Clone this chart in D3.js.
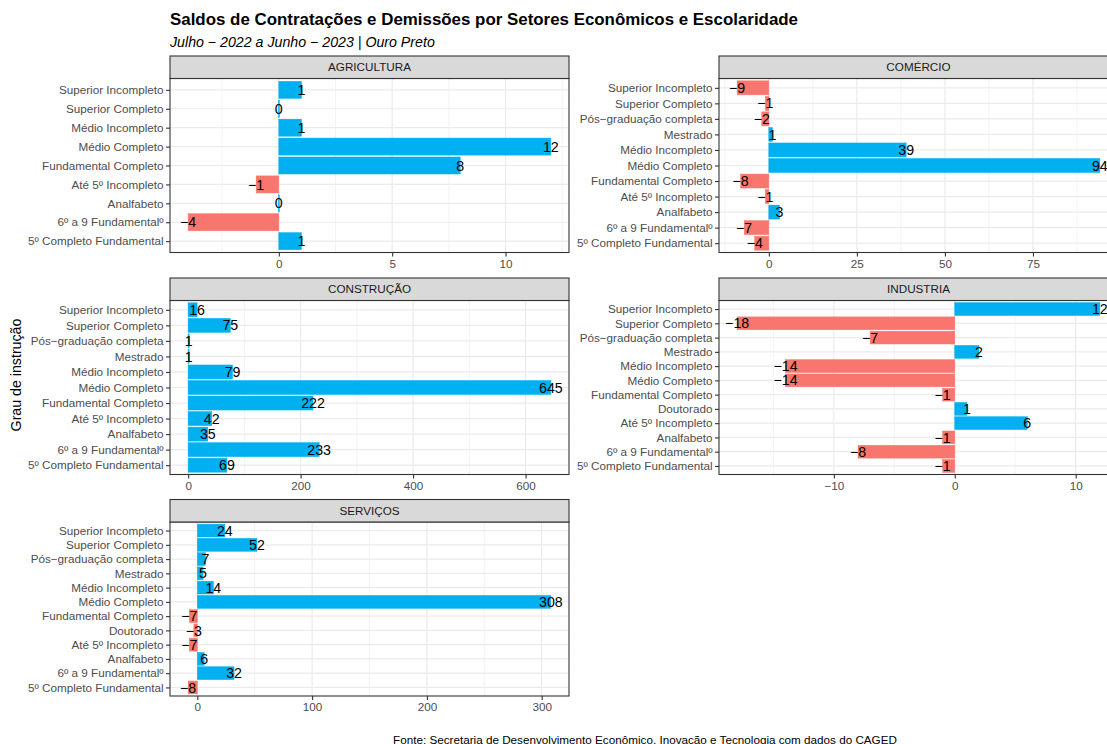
<!DOCTYPE html>
<html>
<head>
<meta charset="utf-8">
<script src="https://cdn.jsdelivr.net/npm/d3@7"></script>
<style>
  body { margin: 0; background: #fff; }
  svg { display: block; }
  text { font-family: "Liberation Sans", Arial, sans-serif; }
</style>
</head>
<body>
<svg id="chart"></svg>
<script>
// categories are listed bottom -> top, as ggplot draws them
const agriCats = ['5º Completo Fundamental', '6º a 9 Fundamentalº', 'Analfabeto', 'Até 5º Incompleto',
  'Fundamental Completo', 'Médio Completo', 'Médio Incompleto', 'Superior Completo', 'Superior Incompleto']
const agriVals = [1, -4, 0, -1, 8, 12, 1, 0, 1]

const comCats = ['5º Completo Fundamental', '6º a 9 Fundamentalº', 'Analfabeto', 'Até 5º Incompleto',
  'Fundamental Completo', 'Médio Completo', 'Médio Incompleto', 'Mestrado', 'Pós−graduação completa',
  'Superior Completo', 'Superior Incompleto']
const comVals = [-4, -7, 3, -1, -8, 94, 39, 1, -2, -1, -9]

const consCats = comCats
const consVals = [69, 233, 35, 42, 222, 645, 79, 1, 1, 75, 16]

const indCats = ['5º Completo Fundamental', '6º a 9 Fundamentalº', 'Analfabeto', 'Até 5º Incompleto',
  'Doutorado', 'Fundamental Completo', 'Médio Completo', 'Médio Incompleto', 'Mestrado',
  'Pós−graduação completa', 'Superior Completo', 'Superior Incompleto']
const indVals = [-1, -8, -1, 6, 1, -1, -14, -14, 2, -7, -18, 12]

const servCats = indCats
const servVals = [-8, 32, 6, -7, -3, -7, 308, 14, 5, 7, 52, 24]

const agriTicks = [0, 5, 10]
const comTicks = [0, 25, 50, 75]
const consTicks = [0, 200, 400, 600]
const indTicks = [-10, 0, 10]
const servTicks = [0, 100, 200, 300]

const panels = [
  { name: 'AGRICULTURA', cats: agriCats, vals: agriVals, ticks: agriTicks, col: 0, row: 0 },
  { name: 'COMÉRCIO', cats: comCats, vals: comVals, ticks: comTicks, col: 1, row: 0 },
  { name: 'CONSTRUÇÃO', cats: consCats, vals: consVals, ticks: consTicks, col: 0, row: 1 },
  { name: 'INDUSTRIA', cats: indCats, vals: indVals, ticks: indTicks, col: 1, row: 1 },
  { name: 'SERVIÇOS', cats: servCats, vals: servVals, ticks: servTicks, col: 0, row: 2 },
]

const W = 1107
const H = 744
const colX = [170, 719]
const stripTop = [56, 278, 499.5]
const panelW = 399
const stripH = 22.5
const panelH = 174

const POS = '#00B0F0'
const NEG = '#F8766D'
const fmt = d => (d < 0 ? '−' + Math.abs(d) : String(d))

const svg = d3.select('#chart').attr('width', W).attr('height', H)
const defs = svg.append('defs')

svg.append('text')
  .attr('x', 170).attr('y', 25)
  .attr('font-size', '16.9px').attr('font-weight', 'bold').attr('fill', '#000')
  .text('Saldos de Contratações e Demissões por Setores Econômicos e Escolaridade')

svg.append('text')
  .attr('x', 170).attr('y', 47)
  .attr('font-size', '14.2px').attr('font-style', 'italic').attr('fill', '#000')
  .text('Julho − 2022 a Junho − 2023 | Ouro Preto')

svg.append('text')
  .attr('transform', `translate(21, 375) rotate(-90)`)
  .attr('text-anchor', 'middle')
  .attr('font-size', '14.2px').attr('fill', '#000')
  .text('Grau de instrução')

panels.forEach((p, i) => {
  const x0 = colX[p.col]
  const sTop = stripTop[p.row]
  const top = sTop + stripH
  const bottom = top + panelH

  const lo = Math.min(0, d3.min(p.vals))
  const hi = Math.max(0, d3.max(p.vals))
  const pad = (hi - lo) * 0.05
  const x = d3.scaleLinear().domain([lo - pad, hi + pad]).range([x0, x0 + panelW])
  const n = p.cats.length
  const y = d3.scaleLinear().domain([0.4, n + 0.6]).range([bottom, top])

  // minor breaks halfway between the major ones
  const step = p.ticks[1] - p.ticks[0]
  const minor = [p.ticks[0] - step / 2].concat(p.ticks.map(t => t + step / 2))
    .filter(m => m > x.domain()[0] && m < x.domain()[1])

  const g = svg.append('g')

  g.append('rect')
    .attr('x', x0).attr('y', top).attr('width', panelW).attr('height', panelH)
    .attr('fill', '#fff')

  g.selectAll('.minor').data(minor).enter().append('line')
    .attr('x1', d => x(d)).attr('x2', d => x(d))
    .attr('y1', top).attr('y2', bottom)
    .attr('stroke', '#EBEBEB').attr('stroke-width', 0.6)

  g.selectAll('.vgrid').data(p.ticks).enter().append('line')
    .attr('x1', d => x(d)).attr('x2', d => x(d))
    .attr('y1', top).attr('y2', bottom)
    .attr('stroke', '#EBEBEB').attr('stroke-width', 1.2)

  g.selectAll('.hgrid').data(p.cats).enter().append('line')
    .attr('x1', x0).attr('x2', x0 + panelW)
    .attr('y1', (d, k) => y(k + 1)).attr('y2', (d, k) => y(k + 1))
    .attr('stroke', '#EBEBEB').attr('stroke-width', 1.2)

  defs.append('clipPath').attr('id', 'clip' + i)
    .append('rect').attr('x', x0).attr('y', top).attr('width', panelW).attr('height', panelH)

  const inner = g.append('g').attr('clip-path', `url(#clip${i})`)

  // a zero-width rect is not painted in svg, so keep a hairline for 0 values
  inner.selectAll('.bar').data(p.vals).enter().append('rect')
    .attr('x', d => (d === 0 ? x(0) - 0.5 : x(Math.min(0, d))))
    .attr('width', d => Math.max(1, Math.abs(x(d) - x(0))))
    .attr('y', (d, k) => y(k + 1.45))
    .attr('height', (d, k) => y(k + 0.55) - y(k + 1.45))
    .attr('fill', d => (d >= 0 ? POS : NEG))
    .attr('stroke', d => (d >= 0 ? POS : NEG))
    .attr('stroke-width', 0.5)

  inner.selectAll('.lbl').data(p.vals).enter().append('text')
    .attr('x', d => x(d))
    .attr('y', (d, k) => y(k + 1))
    .attr('dy', '0.36em')
    .attr('text-anchor', 'middle')
    .attr('font-size', '14.2px').attr('fill', '#000')
    .text(fmt)

  g.append('rect')
    .attr('x', x0).attr('y', top).attr('width', panelW).attr('height', panelH)
    .attr('fill', 'none').attr('stroke', '#333333').attr('stroke-width', 1.1)

  // strip
  g.append('rect')
    .attr('x', x0).attr('y', sTop).attr('width', panelW).attr('height', stripH)
    .attr('fill', '#D9D9D9').attr('stroke', '#333333').attr('stroke-width', 1.1)
  g.append('text')
    .attr('x', x0 + panelW / 2).attr('y', sTop + stripH / 2)
    .attr('dy', '0.35em').attr('text-anchor', 'middle')
    .attr('font-size', '11.7px').attr('fill', '#1A1A1A')
    .text(p.name)

  // axes
  const yAxis = d3.axisLeft(y).tickValues(d3.range(1, n + 1))
    .tickFormat(k => p.cats[k - 1]).tickSize(4).tickPadding(2.5)
  const ya = g.append('g').attr('transform', `translate(${x0},0)`).call(yAxis)

  const xAxis = d3.axisBottom(x).tickValues(p.ticks).tickFormat(fmt).tickSize(4).tickPadding(3)
  const xa = g.append('g').attr('transform', `translate(0,${bottom})`).call(xAxis)

  ;[ya, xa].forEach(a => {
    a.select('.domain').remove()
    a.selectAll('.tick line').attr('stroke', '#333333').attr('stroke-width', 1.1)
    a.selectAll('.tick text').attr('fill', '#4D4D4D').attr('font-size', '11.7px')
      .attr('font-family', '"Liberation Sans", Arial, sans-serif')
  })
})

svg.append('text')
  .attr('x', 645).attr('y', 743.5)
  .attr('text-anchor', 'middle')
  .attr('font-size', '11.7px').attr('fill', '#000')
  .text('Fonte: Secretaria de Desenvolvimento Econômico, Inovação e Tecnologia com dados do CAGED')
</script>
</body>
</html>
